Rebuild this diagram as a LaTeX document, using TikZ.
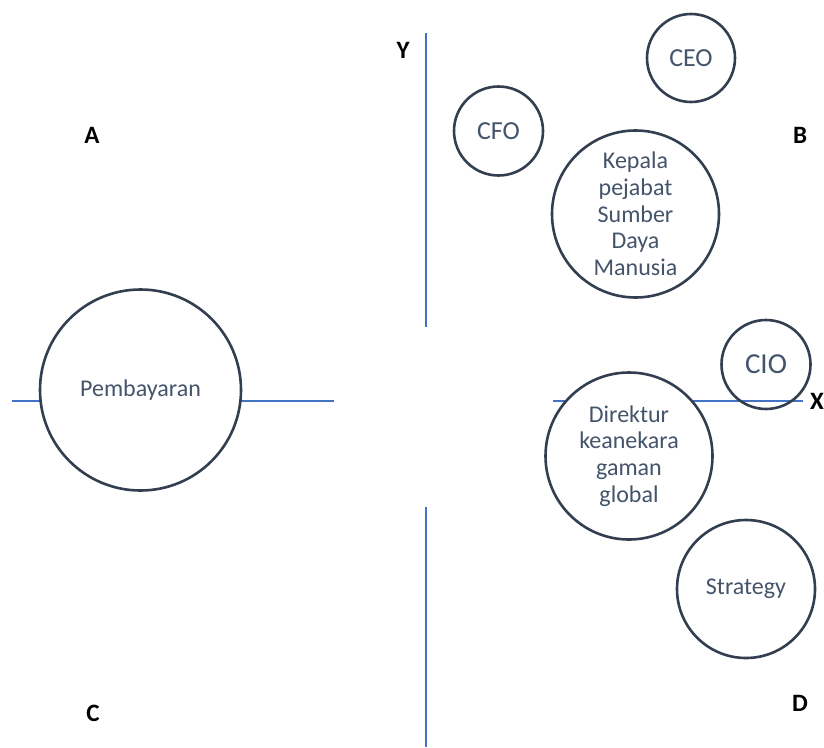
\documentclass[tikz,border=0pt]{standalone}
\usepackage{fontspec}
\setmainfont{Carlito}
\definecolor{axisblue}{HTML}{4472C4}
\definecolor{ringdark}{HTML}{333F50}
\definecolor{labeltext}{HTML}{44546A}
\begin{document}
\begin{tikzpicture}[x=1pt,y=-1pt,
  axisline/.style={draw=axisblue,line width=2.2pt},
  bubble/.style={circle,draw=ringdark,line width=2.6pt,fill=white,inner sep=0pt,
    text=labeltext,align=center,font=\fontsize{24}{26.7}\selectfont},
  openbubble/.style={bubble,fill=none},
  quadrant/.style={font=\fontsize{25}{28}\selectfont\bfseries,inner sep=0pt}]
\useasboundingbox (0,0) rectangle (824,747);

% axis end points
\coordinate (ytop) at (426,33);
\coordinate (ymid1) at (426,327);
\coordinate (ymid2) at (426,507);
\coordinate (ybot) at (426,747);
\coordinate (xl1) at (12,401);
\coordinate (xl2) at (334,401);
\coordinate (xr1) at (553,401);
\coordinate (xr2) at (803,401);

\draw[axisline] (ytop) -- (ymid1);
\draw[axisline] (ymid2) -- (ybot);
\draw[axisline] (xl1) -- (xl2);
\draw[axisline] (xr1) -- (xr2);

% quadrant and axis letters
\node[quadrant] (qa) at (92,135) {A};
\node[quadrant] (qb) at (800,135) {B};
\node[quadrant] (qc) at (93,713) {C};
\node[quadrant] (qd) at (800,703) {D};
\node[quadrant] (ly) at (403,50) {Y};
\node[quadrant,anchor=west] (lx) at (810,401) {X};

% bubbles
\node[bubble,minimum size=88pt,font=\fontsize{26}{28}\selectfont] (ceo) at (691,58) {CEO};
\node[bubble,minimum size=89pt,font=\fontsize{26}{28}\selectfont] (cfo) at (498.5,131) {CFO};
\node[bubble,minimum size=167pt] (hr) at (635.5,214) {Kepala\\pejabat\\Sumber\\Daya\\Manusia};
\node[bubble,minimum size=201pt] (pay) at (140.5,390) {Pembayaran};
\node[openbubble,minimum size=89pt,font=\fontsize{29}{31}\selectfont] (cio) at (766,364.5) {CIO};
\node[bubble,minimum size=167pt] (dir) at (629,456) {Direktur\\keanekara\\gaman\\global};
\node[bubble,minimum size=138pt] (str) at (746,589) {Strategy};
\end{tikzpicture}
\end{document}
